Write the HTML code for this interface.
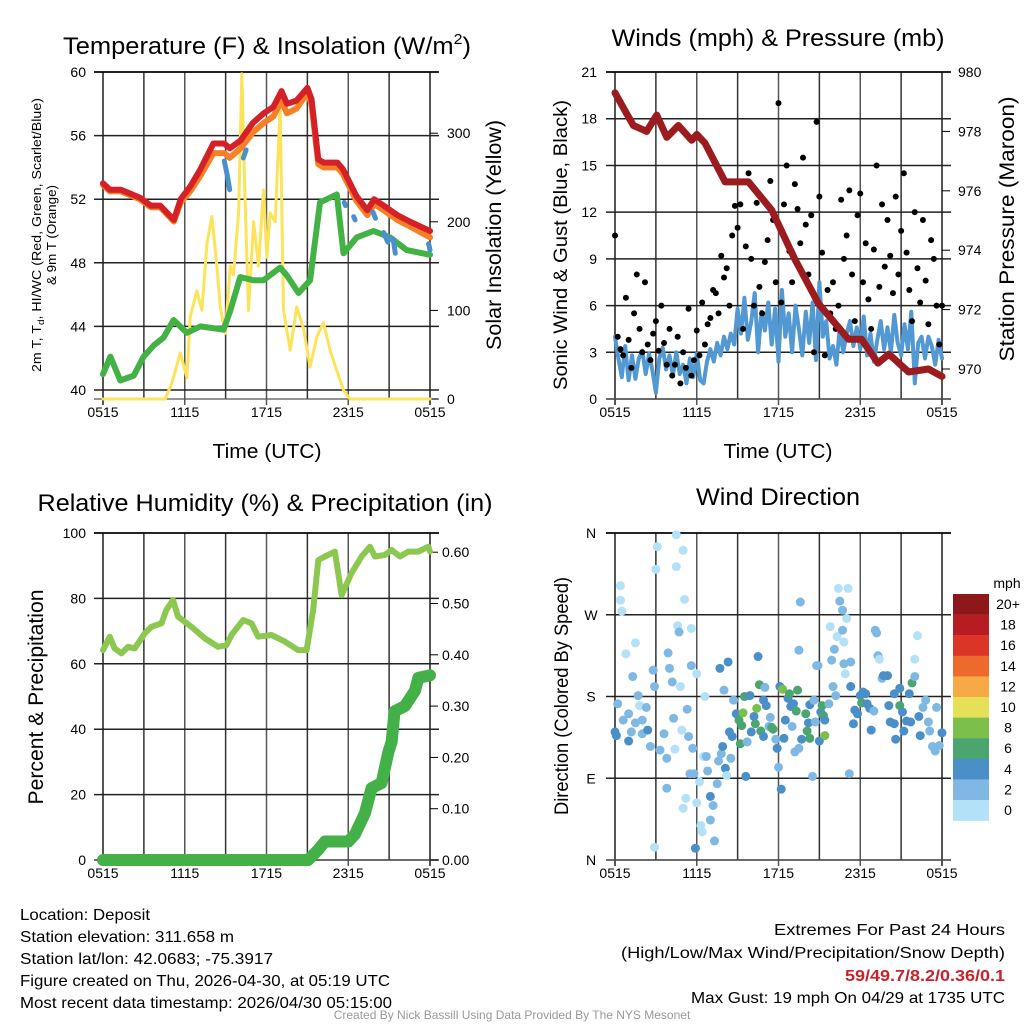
<!DOCTYPE html>
<html><head><meta charset="utf-8">
<style>
html,body{margin:0;padding:0;background:#fff;}
svg{display:block;font-family:"Liberation Sans",Arial,sans-serif;}
</style></head>
<body>
<svg id="fig" width="1024" height="1024" viewBox="0 0 1024 1024" xmlns="http://www.w3.org/2000/svg">
<rect width="1024" height="1024" fill="#fff"/>
<g id="grids"></g>
<g id="marks"></g>
<g id="texts"></g>
<!-- titles -->
<text x="63" y="54" font-size="24" textLength="408" lengthAdjust="spacingAndGlyphs">Temperature (F) &amp; Insolation (W/m<tspan font-size="15" dy="-10">2</tspan><tspan dy="10">)</tspan></text>
<text x="778" y="46" font-size="24" text-anchor="middle" textLength="333" lengthAdjust="spacingAndGlyphs">Winds (mph) &amp; Pressure (mb)</text>
<text x="265" y="511" font-size="24" text-anchor="middle" textLength="455" lengthAdjust="spacingAndGlyphs">Relative Humidity (%) &amp; Precipitation (in)</text>
<text x="778" y="505" font-size="24" text-anchor="middle" textLength="164" lengthAdjust="spacingAndGlyphs">Wind Direction</text>
<!-- x axis titles -->
<text x="267" y="458" font-size="20" text-anchor="middle" textLength="109" lengthAdjust="spacingAndGlyphs">Time (UTC)</text>
<text x="778" y="458" font-size="20" text-anchor="middle" textLength="109" lengthAdjust="spacingAndGlyphs">Time (UTC)</text>
<!-- y axis titles -->
<text transform="translate(41,235) rotate(-90)" font-size="13" text-anchor="middle" textLength="274" lengthAdjust="spacingAndGlyphs">2m T, T<tspan font-size="9" dy="3">d</tspan><tspan dy="-3">, HI/WC (Red, Green, Scarlet/Blue)</tspan></text>
<text transform="translate(56,235) rotate(-90)" font-size="13" text-anchor="middle" textLength="100" lengthAdjust="spacingAndGlyphs">&amp; 9m T (Orange)</text>
<text transform="translate(501,235) rotate(-90)" font-size="21" text-anchor="middle" textLength="230" lengthAdjust="spacingAndGlyphs">Solar Insolation (Yellow)</text>
<text transform="translate(567,245) rotate(-90)" font-size="19" text-anchor="middle" textLength="290" lengthAdjust="spacingAndGlyphs">Sonic Wind &amp; Gust (Blue, Black)</text>
<text transform="translate(1014,229) rotate(-90)" font-size="21" text-anchor="middle" textLength="265" lengthAdjust="spacingAndGlyphs">Station Pressure (Maroon)</text>
<text transform="translate(43,697) rotate(-90)" font-size="21" text-anchor="middle" textLength="215" lengthAdjust="spacingAndGlyphs">Percent &amp; Precipitation</text>
<text transform="translate(568,696) rotate(-90)" font-size="19" text-anchor="middle" textLength="238" lengthAdjust="spacingAndGlyphs">Direction (Colored By Speed)</text>
<!-- footer -->
<g font-size="16" fill="#000">
<text x="20" y="920" textLength="130" lengthAdjust="spacingAndGlyphs">Location: Deposit</text>
<text x="20" y="942" textLength="214" lengthAdjust="spacingAndGlyphs">Station elevation: 311.658 m</text>
<text x="20" y="964" textLength="253" lengthAdjust="spacingAndGlyphs">Station lat/lon: 42.0683; -75.3917</text>
<text x="20" y="986" textLength="370" lengthAdjust="spacingAndGlyphs">Figure created on Thu, 2026-04-30, at 05:19 UTC</text>
<text x="20" y="1008" textLength="372" lengthAdjust="spacingAndGlyphs">Most recent data timestamp: 2026/04/30 05:15:00</text>
<text x="1005" y="935" text-anchor="end" textLength="231" lengthAdjust="spacingAndGlyphs">Extremes For Past 24 Hours</text>
<text x="1005" y="958" text-anchor="end" textLength="384" lengthAdjust="spacingAndGlyphs">(High/Low/Max Wind/Precipitation/Snow Depth)</text>
<text x="1005" y="981" text-anchor="end" fill="#c8222a" font-weight="bold" textLength="160" lengthAdjust="spacingAndGlyphs">59/49.7/8.2/0.36/0.1</text>
<text x="1005" y="1003" text-anchor="end" textLength="314" lengthAdjust="spacingAndGlyphs">Max Gust: 19 mph On 04/29 at 1735 UTC</text>
</g>
<text x="512" y="1019" font-size="12" fill="#999" text-anchor="middle">Created By Nick Bassill Using Data Provided By The NYS Mesonet</text>
</svg>
<script>
// ===== data =====
const tempTimes=[0,0.5,1.3,2.7,3.5,4.2,5.2,5.7,6.4,7.1,8.1,8.9,9.3,10.1,11,11.8,12.5,13.1,13.5,14.2,15,15.3,15.8,16.2,17.2,17.6,18.6,19.4,19.9,20.6,21.6,22.5,24];
const tempRed=[53.0,52.6,52.6,52.1,51.6,51.6,50.7,52.0,52.8,53.8,55.5,55.5,55.2,55.7,56.8,57.4,57.8,58.8,58.0,58.2,59.0,58.3,54.5,54.3,54.3,53.9,52.2,51.3,52.0,51.6,51.0,50.6,50.0];
const temp9m=[52.9,52.5,52.5,52.0,51.5,51.5,50.6,51.8,52.5,53.4,54.9,54.9,54.6,55.2,56.2,56.8,57.2,58.2,57.4,57.7,58.7,58.0,54.2,54.0,54.0,53.6,51.9,51.0,51.7,51.3,50.7,50.3,49.6];
const dewTimes=[0,0.54,1.27,2.25,2.98,3.72,4.45,5.18,6.16,7.14,8.85,9.34,10.07,11.05,11.78,13.0,13.5,14.35,15.2,15.93,17.16,17.65,18.62,19.85,21.07,22.3,24];
const dewGreen=[41.0,42.1,40.6,40.9,42.1,42.8,43.3,44.4,43.6,44.0,43.8,45.0,47.1,46.9,46.9,47.7,47.2,46.1,46.9,51.8,52.3,48.6,49.6,50.0,49.6,48.8,48.5];
const hiwcTimes=[[8.9,9.1,9.3],[10.3,10.5],[17.7,17.8],[18.4,18.5],[19.8,20.0],[20.6,20.9,21.0],[21.3,21.45],[23.9,24]];
const hiwcVals=[[54.4,53.6,52.6],[54.6,55.1],[51.8,51.6],[50.9,50.7],[51.2,50.8],[49.9,49.3,49.6],[49.5,48.6],[49.2,48.8]];
const solarTimes=[0,4.57,5.06,5.67,6.16,6.4,6.89,7.26,7.63,7.99,8.36,8.6,8.97,9.34,9.58,9.95,10.19,10.44,10.68,11.05,11.41,11.78,12.02,12.27,12.64,13.0,13.25,13.74,14.22,14.71,15.2,15.69,16.18,16.67,17.16,17.65,18.13,24];
const solarVals=[0,0,18,52,24,93,122,100,176,206,150,104,74,150,140,210,367,220,100,200,150,236,160,210,200,330,100,55,104,80,36,70,86,55,32,10,0,0];
const pressTimes=[0,0.73,1.35,2.33,3.06,3.8,4.65,5.63,6.0,6.61,8.08,9.8,11.5,13.2,14.94,17.14,18.1,19.3,20.1,21.55,23.0,24];
const pressVals=[979.3,978.7,978.2,978.0,978.55,977.8,978.2,977.7,977.9,977.6,976.3,976.3,975.35,973.7,972.2,971.0,971.0,970.2,970.5,969.9,970.0,969.75];
const sonicStep=0.25;
const sonicVals=[4.0,2.6,1.4,3.4,1.2,2.8,1.3,2.6,3.1,1.6,2.9,1.8,0.4,2.6,3.3,1.9,2.8,1.5,3.0,1.6,2.2,1.0,2.6,1.4,2.9,1.2,1.0,2.4,3.2,2.4,3.6,2.8,4.0,3.2,4.2,3.5,5.8,4.2,6.5,3.8,5.0,6.8,3.0,5.6,4.4,6.2,3.5,5.8,2.4,7.0,4.0,5.5,3.0,6.0,4.5,2.8,5.6,3.6,6.2,2.5,7.5,4.0,5.0,2.6,3.4,2.2,4.6,3.0,4.2,5.0,3.4,4.6,3.2,5.3,2.8,4.2,2.4,3.8,5.0,3.2,4.6,3.0,5.4,3.6,2.8,4.8,3.2,5.6,1.0,3.6,4.0,2.6,4.0,3.4,2.2,3.8,2.6];
const gustStep=0.2;
const gustVals=[10.5,4.0,3.2,2.8,6.5,3.8,2.0,5.5,8.0,4.5,3.0,7.5,3.5,2.5,4.2,5.0,3.1,6.0,3.6,2.2,4.5,1.5,2.2,4.0,1.0,3.0,2.0,5.8,1.5,2.5,4.4,2.8,6.2,3.5,4.8,5.2,7.0,6.8,5.5,9.2,7.8,8.4,6.0,10.5,12.4,11.0,12.5,4.5,9.8,14.5,9.0,6.0,12.6,7.2,5.5,8.8,10.2,14.0,11.5,7.5,19.0,6.2,12.5,15.0,9.5,7.5,13.8,12.2,10.0,15.5,11.2,8.0,11.8,3.0,17.8,13.0,9.4,2.8,7.0,5.5,7.5,4.5,6.0,12.8,9.0,10.5,13.4,8.0,5.0,11.8,13.2,7.5,10.0,6.4,4.5,9.6,15.0,7.2,12.5,8.5,11.5,9.2,6.8,13.0,8.0,10.8,14.5,9.4,7.0,5.0,12.0,8.4,6.2,11.5,7.6,4.8,10.2,9.0,6.0,3.5,6.0];
const rhTimes=[0,0.49,0.86,1.35,1.84,2.33,3.06,3.55,4.29,4.65,5.14,5.51,6.49,7.47,8.45,9.06,9.43,10.29,10.9,11.39,12.37,13.35,14.33,14.94,15.43,15.8,16.29,17.02,17.51,18.24,18.98,19.59,19.96,20.69,21.18,21.8,22.41,23.14,23.88,24];
const rhVals=[64.2,68.3,64.7,63.2,65.2,64.7,69.3,71.3,72.4,76.5,79.5,74.4,71.3,67.8,65.2,65.7,68.8,73.4,72.4,68.3,68.8,66.8,64.2,64.2,76.5,91.7,92.8,94.3,81.0,87.7,92.8,95.8,92.8,93.3,94.8,92.8,94.3,94.3,95.8,94.3];
const precipTimes=[0,15.06,15.8,16.29,18.0,18.49,19.22,19.71,20.45,20.94,21.18,21.4,22.16,22.9,23.14,24];
const precipVals=[0,0,0.02,0.036,0.036,0.05,0.091,0.14,0.15,0.21,0.23,0.29,0.30,0.33,0.355,0.36];
const dirTimes=[0,0.1,0.2,0.4,0.4,0.5,0.6,0.8,1.0,1.0,1.2,1.3,1.5,1.5,1.7,1.8,2.0,2.0,2.3,2.4,2.6,2.8,2.9,2.9,3.0,3.1,3.3,3.6,3.8,3.8,3.9,4.0,4.2,4.3,4.4,4.5,4.5,4.6,4.7,4.8,4.9,5.0,5.0,5.1,5.2,5.3,5.4,5.5,5.6,5.6,5.7,5.8,5.9,6.0,6.0,6.2,6.3,6.4,6.5,6.6,6.7,6.8,7.0,7.0,7.2,7.3,7.5,7.6,7.7,7.8,7.9,8.0,8.1,8.2,8.3,8.4,8.5,8.6,8.7,8.9,9.1,9.2,9.3,9.4,9.5,9.6,9.7,9.9,10.0,10.2,10.3,10.4,10.5,10.6,10.7,10.9,10.9,11.0,11.1,11.3,11.4,11.5,11.6,11.8,11.9,12.0,12.1,12.2,12.3,12.4,12.5,12.7,12.8,12.9,13.0,13.1,13.2,13.3,13.4,13.5,13.5,13.6,13.7,14.0,14.1,14.2,14.3,14.3,14.5,14.6,14.7,14.8,14.9,15.0,15.1,15.2,15.3,15.4,15.4,15.7,15.8,15.9,16.0,16.1,16.2,16.3,16.4,16.5,16.7,16.7,16.8,16.8,16.9,17.0,17.1,17.2,17.3,17.3,17.5,17.6,17.8,18.0,18.1,18.2,18.4,18.5,18.7,18.8,19.0,19.1,19.2,19.3,19.4,19.6,19.7,20.0,20.1,20.2,20.5,20.5,20.6,20.9,20.9,21.1,21.2,21.4,21.6,21.7,21.8,22.0,22.0,22.2,22.3,22.4,22.6,22.8,23.0,23.1,23.3,23.5,23.6,23.8,24.0];
const dirVals=[141,137,172,302,286,274,154,227,161,131,141,202,151,239,181,170,139,154,168,143,125,209,191,14,320,345,121,139,112,79,228,211,196,156,122,358,323,258,251,191,143,341,57,287,68,166,136,95,255,214,123,95,13,63,205,86,38,31,114,180,114,98,70,44,60,21,84,109,211,117,125,187,101,93,218,141,112,136,176,161,154,128,148,162,180,92,130,181,141,158,150,167,224,193,142,176,136,190,170,147,157,146,144,133,123,102,191,78,188,134,154,178,183,169,147,172,119,164,187,123,231,284,133,161,142,151,134,171,92,176,152,214,214,131,163,170,159,137,154,172,257,220,191,232,181,246,299,285,275,253,240,216,205,266,299,95,218,191,150,165,161,181,173,185,183,172,167,143,164,253,250,225,221,200,203,203,170,152,183,150,133,170,189,163,142,153,183,152,195,202,221,247,158,137,168,176,152,142,125,120,168,126,140];
const dirSpeeds=[5,5,3,1,1,1,3,1,3,5,3,3,3,1,3,1,3,3,3,5,3,3,3,1,1,1,3,3,3,3,3,3,3,3,1,1,1,1,3,1,1,1,1,1,1,3,3,3,1,3,3,3,5,1,1,1,1,1,1,1,3,3,5,3,3,3,3,3,5,3,5,3,5,1,5,5,3,5,3,5,7,7,7,9,7,5,3,5,5,5,7,9,5,7,7,5,5,3,5,3,3,7,7,3,5,3,5,5,9,5,5,5,7,5,3,5,3,7,7,3,3,3,5,7,7,5,7,5,3,3,3,3,3,5,5,7,7,9,5,3,1,3,3,3,3,1,1,3,3,3,1,3,1,1,1,3,3,5,5,5,5,5,7,5,5,5,5,5,3,3,3,3,1,3,5,5,5,5,5,5,5,7,5,5,5,5,5,5,7,3,1,1,5,5,3,3,3,3,3,3,3,3,5,3];
const speedBinLabels=["0","2","4","6","8","10","12","14","16","18","20+"];
const speedBinColors=["#b3e1f7","#7fb9e3","#4a8fc8","#4aa66e","#7cbf4a","#e6df58","#f6a945","#ee6a2c","#dc3427","#b81c23","#8e1719"];
const xTickLabels=["0515","1115","1715","2315","0515"];
const tempTicks=[40,44,48,52,56,60];
const solarTicks=[0,100,200,300];
const windTicks=[0,3,6,9,12,15,18,21];
const pressTicks=[970,972,974,976,978,980];
const rhTicks=[0,20,40,60,80,100];
const precipTicks=[0,0.1,0.2,0.3,0.4,0.5,0.6];
const dirTickLabels=["N","E","S","W","N"];
const dirTickVals=[0,90,180,270,360];

// ===== scales =====
const NS="http://www.w3.org/2000/svg";
const P1={x0:103,x1:430,y0:72,y1:399}, P2={x0:615,x1:942,y0:72,y1:399}, P3={x0:103,x1:430,y0:533,y1:860}, P4={x0:615,x1:942,y0:533,y1:860};
const xs=(p,t)=>p.x0+t/24*(p.x1-p.x0);
const yTemp=v=>390-(v-40)*15.9;
const ySolar=v=>399-v*0.886;
const yWind=v=>399-v*15.57;
const yPress=v=>369-(v-970)*29.7;
const yRH=v=>860-v*3.27;
const yPrecip=v=>860-v*513;
const yDir=v=>860-v*0.9083;
const grids=document.getElementById('grids'), marks=document.getElementById('marks'), texts=document.getElementById('texts');
function el(tag,attrs,parent){const e=document.createElementNS(NS,tag);for(const k in attrs)e.setAttribute(k,attrs[k]);(parent||marks).appendChild(e);return e;}
function poly(p,times,vals,yf,color,w){return el('polyline',{points:times.map((t,i)=>xs(p,t).toFixed(1)+','+yf(vals[i]).toFixed(1)).join(' '),fill:'none',stroke:color,'stroke-width':w,'stroke-linejoin':'round','stroke-linecap':'round'});}
function label(x,y,s,anchor,size){const t=el('text',{x:x,y:y,'font-size':size||14,'text-anchor':anchor||'middle'},texts);t.textContent=s;return t;}

// ===== frames & grids =====
function frame(p,name,hVals,hy){
  const g=el('g',{},grids);
  
  
  for(let k=0;k<=8;k++){const x=xs(p,k*3);el('line',{x1:x,y1:p.y0,x2:x,y2:p.y1+(k%2==0?6:0),stroke:k%2?'#333':'#555','stroke-width':k==0||k==8?2:1.5},g);}
  hVals.forEach(v=>{const y=hy(v);el('line',{x1:p.x0-9,y1:y,x2:p.x1+9,y2:y,stroke:'#222','stroke-width':1.5},g);});
  el('line',{x1:p.x0-9,y1:p.y0,x2:p.x1+9,y2:p.y0,stroke:'#000','stroke-width':1.5},g);
  el('line',{x1:p.x0-9,y1:p.y1,x2:p.x1+9,y2:p.y1,stroke:'#555','stroke-width':1.2},g);
  xTickLabels.forEach((s,i)=>{const t=label(xs(p,i*6),p.y1+18,s,'middle',14);
    
    });
}
frame(P1,'temperature',tempTicks,yTemp);
frame(P2,'winds',windTicks,yWind);
frame(P3,'humidity',rhTicks,yRH);
frame(P4,'direction',dirTickVals,yDir);
// right axis ticks
solarTicks.forEach(v=>{el('line',{x1:P1.x1,y1:ySolar(v),x2:P1.x1+8,y2:ySolar(v),stroke:'#000'},grids);});
pressTicks.forEach(v=>{el('line',{x1:P2.x1,y1:yPress(v),x2:P2.x1+8,y2:yPress(v),stroke:'#000'},grids);});
precipTicks.forEach(v=>{el('line',{x1:P3.x1,y1:yPrecip(v),x2:P3.x1+8,y2:yPrecip(v),stroke:'#000'},grids);});

// tick labels
tempTicks.forEach(v=>{const t=label(86,yTemp(v)+5,String(v),'end');});
solarTicks.forEach(v=>{const t=label(447,ySolar(v)+5,String(v),'start');});
windTicks.forEach(v=>{const t=label(597,yWind(v)+5,String(v),'end');});
pressTicks.forEach(v=>{const t=label(958,yPress(v)+5,String(v),'start');});
rhTicks.forEach(v=>{const t=label(86,yRH(v)+5,String(v),'end');});
precipTicks.forEach(v=>{const t=label(442,yPrecip(v)+5,v.toFixed(2),'start');});
dirTickVals.forEach((v,i)=>{const t=label(591,yDir(v)+5,dirTickLabels[i],'middle');});

// ===== panel 1 series =====
let s;
s=poly(P1,solarTimes,solarVals,ySolar,'#fde35a',3);


s=poly(P1,dewTimes,dewGreen,yTemp,'#43b244',6);


s=poly(P1,tempTimes,temp9m,yTemp,'#f58025',6);


s=poly(P1,tempTimes,tempRed,yTemp,'#d52027',6);


hiwcTimes.forEach((ts,i)=>{const q=poly(P1,ts,hiwcVals[i],yTemp,'#4a90cc',5);
  
  });

// ===== panel 2 series =====
s=poly(P2,sonicVals.map((v,i)=>i*sonicStep),sonicVals,yWind,'#5298d3',4);


gustVals.forEach((v,i)=>{const c=el('circle',{cx:xs(P2,i*gustStep),cy:yWind(v),r:3,fill:'#000'});
  
  });
s=poly(P2,pressTimes,pressVals,yPress,'#9b1b1e',7);



// ===== panel 3 series =====
s=poly(P3,rhTimes,rhVals,yRH,'#8cc850',6);


s=poly(P3,precipTimes,precipVals,yPrecip,'#44b048',12);



// ===== panel 4 series =====
function speedColor(sp){let k=Math.floor(sp/2);if(k>10)k=10;if(k<0)k=0;return speedBinColors[k];}
dirVals.forEach((d,i)=>{const c=el('circle',{cx:xs(P4,dirTimes[i]),cy:yDir(d),r:4.5,fill:speedColor(dirSpeeds[i])});
  
  });

// legend
const lg=el('g',{},texts);


const mt=el('text',{x:1007,y:588,'font-size':14,'text-anchor':'middle'},lg);mt.textContent='mph';
speedBinColors.forEach((c,i)=>{const k=10-i;const y=594+i*20.6;
  const r=el('rect',{x:953,y:y,width:36,height:20.8,fill:speedBinColors[k]},lg);
  
  
  const t=el('text',{x:1008,y:y+15,'font-size':14,'text-anchor':'middle'},lg);t.textContent=speedBinLabels[k];});
</script>
</body></html>
